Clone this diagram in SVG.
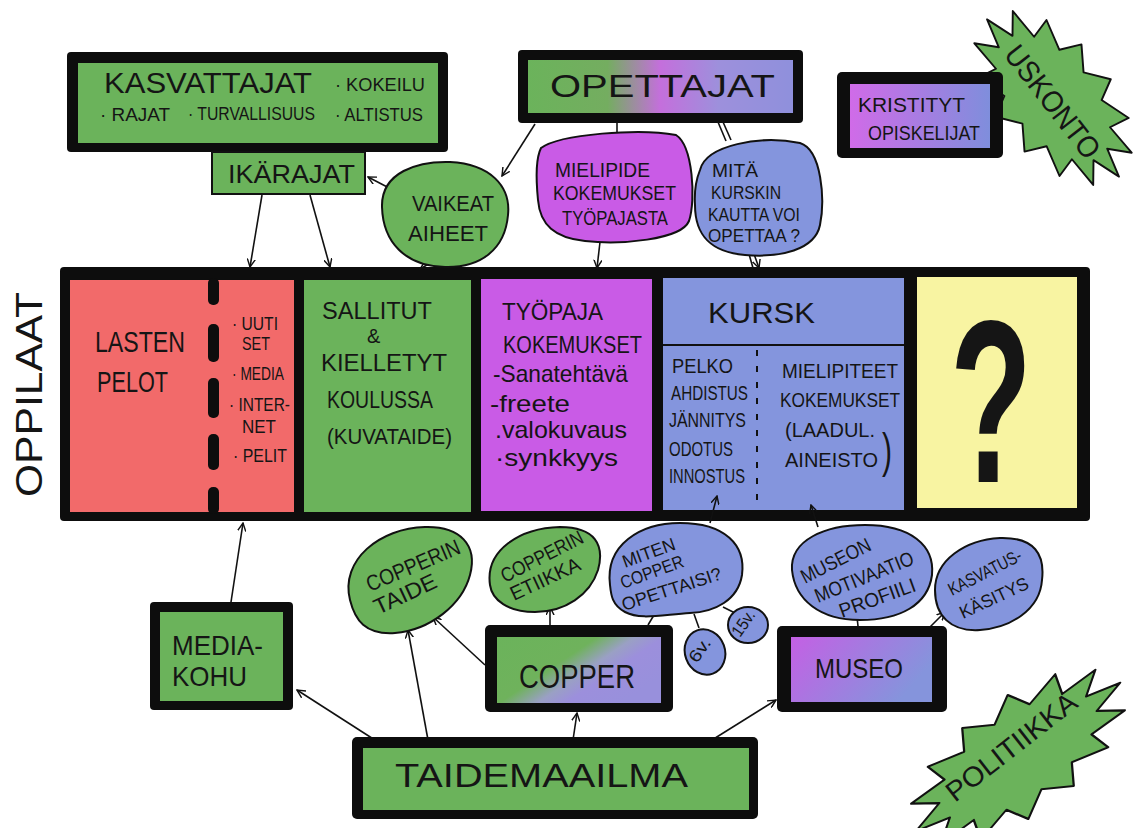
<svg xmlns="http://www.w3.org/2000/svg" width="1134" height="828" viewBox="0 0 1134 828">
<style>
.t{font-family:"Liberation Sans",Arial,sans-serif;fill:#151515}
.blk{fill:#0d0d0d}
.g{fill:#6bb35b}
.r{fill:#f26a6a}
.p{fill:#c95be6}
.b{fill:#8495dd}
.y{fill:#f8f4a2}
.bub{stroke:#111;stroke-width:2}
.ln{fill:none;stroke:#111;stroke-width:1.6}
.arr{fill:none;stroke:#111;stroke-width:1.6;marker-end:url(#ah)}
.star{fill:#6bb35b;stroke:#111;stroke-width:1.8;stroke-linejoin:round}
</style>
<defs>
<marker id="ah" viewBox="0 0 10 10" refX="9" refY="5" markerWidth="9" markerHeight="9" orient="auto" markerUnits="userSpaceOnUse">
<path d="M0,0.5 L9,5 L0,9.5" fill="none" stroke="#111" stroke-width="1.6"/>
</marker>
<linearGradient id="gOpe" x1="0" y1="0" x2="1" y2="0">
<stop offset="0" stop-color="#6bb35b"/><stop offset="0.3" stop-color="#74ad60"/><stop offset="0.5" stop-color="#c46fdc"/><stop offset="0.72" stop-color="#9d90dc"/><stop offset="1" stop-color="#8f90dc"/>
</linearGradient>
<linearGradient id="gCop" x1="0" y1="0" x2="1" y2="0.6">
<stop offset="0" stop-color="#6bb35b"/><stop offset="0.45" stop-color="#6fb25c"/><stop offset="0.62" stop-color="#9aa0c4"/><stop offset="0.75" stop-color="#9c8fdc"/><stop offset="1" stop-color="#9890dc"/>
</linearGradient>
<linearGradient id="gMus" x1="0" y1="0" x2="1" y2="0.4">
<stop offset="0" stop-color="#c460e4"/><stop offset="1" stop-color="#8594dc"/>
</linearGradient>
<linearGradient id="gKri" x1="0" y1="0" x2="1" y2="0">
<stop offset="0" stop-color="#d06be8"/><stop offset="1" stop-color="#7f8edc"/>
</linearGradient>
<polygon id="star" points="95,0 68.2,8.5 85.6,23.9 54.7,23.7 59.2,43 30.4,34.2 21.1,53.6 0,38 -21.1,53.6 -30.4,34.2 -59.2,43 -54.7,23.7 -85.6,23.9 -68.2,8.5 -95,0 -68.2,-8.5 -85.6,-23.9 -54.7,-23.7 -59.2,-43 -30.4,-34.2 -21.1,-53.6 0,-38 21.1,-53.6 30.4,-34.2 59.2,-43 54.7,-23.7 85.6,-23.9 68.2,-8.5"/>
</defs>
<rect width="1134" height="828" fill="#ffffff"/>

<g id="uskonto">
<use href="#star" class="star" transform="translate(1053,98) rotate(50) scale(1.08,1.05)"/>
<text class="t" font-size="30" transform="translate(1003,55) rotate(52)" textLength="135" lengthAdjust="spacingAndGlyphs">USKONTO</text>
</g>
<g id="politiikka">
<use href="#star" class="star" transform="translate(1018,757) rotate(-36) scale(1.33,1.05)"/>
<text class="t" font-size="28" transform="translate(955,803) rotate(-38)" textLength="158" lengthAdjust="spacingAndGlyphs">POLITIIKKA</text>
</g>

<g id="kasvattajat">
<rect class="blk" x="67" y="52" width="381" height="100" rx="4"/>
<rect class="g" x="78" y="63" width="360" height="80"/>
<text class="t" font-size="30" x="104" y="93" textLength="208" lengthAdjust="spacingAndGlyphs">KASVATTAJAT</text>
<text class="t" font-size="18" x="335" y="91" textLength="90" lengthAdjust="spacingAndGlyphs">· KOKEILU</text>
<text class="t" font-size="18" x="100" y="121" textLength="70" lengthAdjust="spacingAndGlyphs">· RAJAT</text>
<text class="t" font-size="18" x="188" y="120" textLength="127" lengthAdjust="spacingAndGlyphs">· TURVALLISUUS</text>
<text class="t" font-size="18" x="335" y="121" textLength="88" lengthAdjust="spacingAndGlyphs">· ALTISTUS</text>
</g>
<g id="ikarajat">
<rect class="g" x="212" y="152" width="153" height="42" stroke="#111" stroke-width="2"/>
<text class="t" font-size="26" x="228" y="183" textLength="127" lengthAdjust="spacingAndGlyphs">IKÄRAJAT</text>
</g>
<g id="opettajat">
<rect class="blk" x="518" y="50" width="285" height="73" rx="4"/>
<rect x="528" y="60" width="265" height="53" fill="url(#gOpe)"/>
<text class="t" font-size="31" x="550" y="97" textLength="225" lengthAdjust="spacingAndGlyphs">OPETTAJAT</text>
</g>
<g id="kristityt">
<rect class="blk" x="837" y="72" width="166" height="86" rx="5"/>
<rect x="850" y="84" width="140" height="64" fill="url(#gKri)"/>
<text class="t" font-size="20" x="858" y="112" textLength="107" lengthAdjust="spacingAndGlyphs">KRISTITYT</text>
<text class="t" font-size="20" x="868" y="140" textLength="112" lengthAdjust="spacingAndGlyphs">OPISKELIJAT</text>
</g>

<g id="oppilaat">
<text class="t" font-size="36" transform="translate(42,497) rotate(-90)" textLength="205" lengthAdjust="spacingAndGlyphs">OPPILAAT</text>
</g>

<g id="band">
<rect class="blk" x="60" y="267" width="1030" height="254" rx="4"/>
<rect class="r" x="70" y="280" width="224" height="232"/>
<rect class="g" x="304" y="280" width="167" height="232"/>
<rect class="p" x="481" y="279" width="171" height="232"/>
<rect class="b" x="663" y="278" width="241" height="232"/>
<rect class="y" x="917" y="277" width="160" height="231"/>
</g>

<g id="lasten-pelot">
<rect class="blk" x="208" y="278" width="11" height="27" rx="5"/>
<rect class="blk" x="208" y="324" width="11" height="38" rx="5"/>
<rect class="blk" x="208" y="378" width="11" height="40" rx="5"/>
<rect class="blk" x="208" y="434" width="11" height="36" rx="5"/>
<rect class="blk" x="208" y="487" width="11" height="27" rx="5"/>
<text class="t" font-size="30" x="95" y="352" textLength="90" lengthAdjust="spacingAndGlyphs">LASTEN</text>
<text class="t" font-size="30" x="97" y="392" textLength="71" lengthAdjust="spacingAndGlyphs">PELOT</text>
<text class="t" font-size="18" x="232" y="330" textLength="46" lengthAdjust="spacingAndGlyphs">· UUTI</text>
<text class="t" font-size="18" x="242" y="350" textLength="28" lengthAdjust="spacingAndGlyphs">SET</text>
<text class="t" font-size="18" x="232" y="380" textLength="52" lengthAdjust="spacingAndGlyphs">· MEDIA</text>
<text class="t" font-size="18" x="229" y="411" textLength="61" lengthAdjust="spacingAndGlyphs">· INTER-</text>
<text class="t" font-size="18" x="242" y="433" textLength="34" lengthAdjust="spacingAndGlyphs">NET</text>
<text class="t" font-size="18" x="233" y="462" textLength="54" lengthAdjust="spacingAndGlyphs">· PELIT</text>
</g>
<g id="sallitut">
<text class="t" font-size="24" x="322" y="319" textLength="110" lengthAdjust="spacingAndGlyphs">SALLITUT</text>
<text class="t" font-size="20" x="367" y="343">&amp;</text>
<text class="t" font-size="24" x="321" y="371" textLength="126" lengthAdjust="spacingAndGlyphs">KIELLETYT</text>
<text class="t" font-size="24" x="327" y="408" textLength="106" lengthAdjust="spacingAndGlyphs">KOULUSSA</text>
<text class="t" font-size="22" x="327" y="444" textLength="125" lengthAdjust="spacingAndGlyphs">(KUVATAIDE)</text>
</g>
<g id="tyopaja">
<text class="t" font-size="24" x="502" y="320" textLength="101" lengthAdjust="spacingAndGlyphs">TYÖPAJA</text>
<text class="t" font-size="24" x="503" y="353" textLength="139" lengthAdjust="spacingAndGlyphs">KOKEMUKSET</text>
<text class="t" font-size="24" x="493" y="382" textLength="135" lengthAdjust="spacingAndGlyphs">-Sanatehtävä</text>
<text class="t" font-size="24" x="490" y="412" textLength="80" lengthAdjust="spacingAndGlyphs">-freete</text>
<text class="t" font-size="24" x="495" y="438" textLength="132" lengthAdjust="spacingAndGlyphs">.valokuvaus</text>
<text class="t" font-size="24" x="495" y="466" textLength="123" lengthAdjust="spacingAndGlyphs">·synkkyys</text>
</g>
<g id="kursk">
<text class="t" font-size="30" x="708" y="323" textLength="107" lengthAdjust="spacingAndGlyphs">KURSK</text>
<line x1="663" y1="345" x2="904" y2="345" stroke="#111" stroke-width="2"/>
<line x1="757" y1="350" x2="757" y2="508" stroke="#111" stroke-width="2" stroke-dasharray="6 10"/>
<text class="t" font-size="20" x="672" y="373" textLength="61" lengthAdjust="spacingAndGlyphs">PELKO</text>
<text class="t" font-size="20" x="671" y="400" textLength="77" lengthAdjust="spacingAndGlyphs">AHDISTUS</text>
<text class="t" font-size="20" x="669" y="427" textLength="77" lengthAdjust="spacingAndGlyphs">JÄNNITYS</text>
<text class="t" font-size="20" x="669" y="456" textLength="64" lengthAdjust="spacingAndGlyphs">ODOTUS</text>
<text class="t" font-size="20" x="669" y="483" textLength="76" lengthAdjust="spacingAndGlyphs">INNOSTUS</text>
<text class="t" font-size="20" x="782" y="378" textLength="116" lengthAdjust="spacingAndGlyphs">MIELIPITEET</text>
<text class="t" font-size="20" x="780" y="407" textLength="120" lengthAdjust="spacingAndGlyphs">KOKEMUKSET</text>
<text class="t" font-size="20" x="785" y="437" textLength="90" lengthAdjust="spacingAndGlyphs">(LAADUL.</text>
<text class="t" font-size="20" x="785" y="467" textLength="93" lengthAdjust="spacingAndGlyphs">AINEISTO</text>
<text class="t" font-size="48" x="882" y="467" textLength="10" lengthAdjust="spacingAndGlyphs">)</text>
</g>
<g id="kysymys">
<text class="t" font-size="232" font-weight="bold" x="950" y="482" textLength="82" lengthAdjust="spacingAndGlyphs" fill="#000">?</text>
</g>

<g id="connectors">
<line class="arr" x1="262" y1="195" x2="250" y2="267"/>
<line class="arr" x1="310" y1="195" x2="330" y2="267"/>
<line class="arr" x1="393" y1="190" x2="368" y2="177"/>
<line class="arr" x1="535" y1="124" x2="502" y2="176"/>
<line class="arr" x1="432" y1="262" x2="420" y2="269"/>
<line class="ln" x1="617" y1="122" x2="617" y2="133"/>
<line class="arr" x1="600" y1="242" x2="597" y2="268"/>
<line class="ln" x1="718" y1="122" x2="726" y2="141"/>
<line class="ln" x1="723" y1="122" x2="731" y2="140"/>
<line class="ln" x1="749" y1="254" x2="753" y2="268"/>
<line class="arr" x1="754" y1="254" x2="759" y2="268"/>
<line class="arr" x1="710" y1="523" x2="717" y2="496"/>
<line class="arr" x1="818" y1="527" x2="811" y2="505"/>
<line class="arr" x1="231" y1="602" x2="243" y2="523"/>
<line class="arr" x1="485" y1="665" x2="433" y2="617"/>
<line class="arr" x1="428" y1="740" x2="408" y2="630"/>
<line class="arr" x1="550" y1="625" x2="550" y2="607"/>
<line class="ln" x1="648" y1="625" x2="654" y2="615"/>
<line class="ln" x1="694" y1="614" x2="699" y2="628"/>
<line class="ln" x1="723" y1="607" x2="735" y2="613"/>
<line class="arr" x1="378" y1="742" x2="297" y2="690"/>
<line class="arr" x1="573" y1="740" x2="577" y2="713"/>
<line class="arr" x1="712" y1="740" x2="776" y2="700"/>
<line class="ln" x1="858" y1="626" x2="857" y2="617"/>
<line class="arr" x1="930" y1="627" x2="945" y2="612"/>
</g>

<g id="vaikeat">
<path class="g bub" d="M382,207 C381,172 418,161 450,162 C490,164 511,186 508,215 C505,250 480,268 445,267 C405,266 383,242 382,207 Z"/>
<text class="t" font-size="22" x="412" y="211" textLength="82" lengthAdjust="spacingAndGlyphs">VAIKEAT</text>
<text class="t" font-size="22" x="408" y="241" textLength="80" lengthAdjust="spacingAndGlyphs">AIHEET</text>
</g>
<g id="mielipide">
<path class="p bub" d="M541,148 C560,134 640,128 676,135 C693,146 696,200 689,221 C681,240 620,245 585,241 C555,238 540,225 538,200 C536,180 535,160 541,148 Z"/>
<text class="t" font-size="20" x="555" y="177" textLength="95" lengthAdjust="spacingAndGlyphs">MIELIPIDE</text>
<text class="t" font-size="20" x="553" y="200" textLength="123" lengthAdjust="spacingAndGlyphs">KOKEMUKSET</text>
<text class="t" font-size="20" x="562" y="225" textLength="106" lengthAdjust="spacingAndGlyphs">TYÖPAJASTA</text>
</g>
<g id="mita">
<path class="b bub" d="M700,170 C706,145 760,135 800,143 C822,150 825,200 820,225 C815,250 780,258 745,255 C710,252 695,235 695,205 C694,190 696,180 700,170 Z"/>
<text class="t" font-size="18" x="712" y="177" textLength="46" lengthAdjust="spacingAndGlyphs">MITÄ</text>
<text class="t" font-size="18" x="711" y="199" textLength="70" lengthAdjust="spacingAndGlyphs">KURSKIN</text>
<text class="t" font-size="18" x="708" y="221" textLength="92" lengthAdjust="spacingAndGlyphs">KAUTTA VOI</text>
<text class="t" font-size="18" x="708" y="242" textLength="92" lengthAdjust="spacingAndGlyphs">OPETTAA ?</text>
</g>

<g id="mediakohu">
<rect class="blk" x="150" y="602" width="143" height="108" rx="4"/>
<rect class="g" x="160" y="612" width="123" height="89"/>
<text class="t" font-size="28" x="172" y="655" textLength="91" lengthAdjust="spacingAndGlyphs">MEDIA-</text>
<text class="t" font-size="28" x="172" y="686" textLength="75" lengthAdjust="spacingAndGlyphs">KOHU</text>
</g>
<g id="copperin-taide">
<path class="g bub" d="M350,600 C340,560 380,528 425,527 C460,526 478,545 470,575 C462,605 430,630 395,633 C365,635 355,620 350,600 Z"/>
<text class="t" font-size="22" transform="translate(370,592) rotate(-23)" textLength="100" lengthAdjust="spacingAndGlyphs">COPPERIN</text>
<text class="t" font-size="22" transform="translate(378,615) rotate(-25)" textLength="67" lengthAdjust="spacingAndGlyphs">TAIDE</text>
</g>
<g id="copperin-etiikka">
<path class="g bub" d="M490,585 C485,550 520,528 560,527 C595,527 605,545 598,570 C590,595 565,612 535,612 C508,612 492,600 490,585 Z"/>
<text class="t" font-size="20" transform="translate(505,583) rotate(-27)" textLength="90" lengthAdjust="spacingAndGlyphs">COPPERIN</text>
<text class="t" font-size="20" transform="translate(514,601) rotate(-25)" textLength="75" lengthAdjust="spacingAndGlyphs">ETIIKKA</text>
</g>
<g id="miten-copper">
<path class="b bub" d="M610,585 C605,545 640,523 680,523 C725,523 746,545 742,575 C738,600 715,612 690,613 C660,615 640,620 625,612 C612,605 611,595 610,585 Z"/>
<text class="t" font-size="18" transform="translate(625,568) rotate(-20)" textLength="55" lengthAdjust="spacingAndGlyphs">MITEN</text>
<text class="t" font-size="18" transform="translate(623,589) rotate(-20)" textLength="66" lengthAdjust="spacingAndGlyphs">COPPER</text>
<text class="t" font-size="18" transform="translate(624,611) rotate(-18)" textLength="104" lengthAdjust="spacingAndGlyphs">OPETTAISI?</text>
</g>
<g id="ika6">
<ellipse class="b bub" cx="705" cy="652" rx="20" ry="23" transform="rotate(-20 705 652)"/>
<text class="t" font-size="17" transform="translate(697,664) rotate(-55)" textLength="26" lengthAdjust="spacingAndGlyphs">6v.</text>
</g>
<g id="ika15">
<ellipse class="b bub" cx="748" cy="625" rx="20" ry="18"/>
<text class="t" font-size="17" transform="translate(740,638) rotate(-55)" textLength="28" lengthAdjust="spacingAndGlyphs">15v.</text>
</g>
<g id="copper">
<rect class="blk" x="485" y="625" width="188" height="87" rx="5"/>
<rect x="497" y="637" width="164" height="66" fill="url(#gCop)"/>
<text class="t" font-size="34" x="519" y="688" textLength="116" lengthAdjust="spacingAndGlyphs">COPPER</text>
</g>
<g id="museon-profiili">
<path class="b bub" d="M792,570 C790,540 825,525 865,525 C910,525 935,545 932,575 C928,605 900,620 860,620 C820,620 795,600 792,570 Z"/>
<text class="t" font-size="20" transform="translate(805,584) rotate(-27)" textLength="76" lengthAdjust="spacingAndGlyphs">MUSEON</text>
<text class="t" font-size="20" transform="translate(818,603) rotate(-22)" textLength="105" lengthAdjust="spacingAndGlyphs">MOTIVAATIO</text>
<text class="t" font-size="20" transform="translate(842,618) rotate(-20)" textLength="80" lengthAdjust="spacingAndGlyphs">PROFIILI</text>
</g>
<g id="kasvatuskasitys">
<path class="b bub" d="M935,590 C935,560 965,540 1000,538 C1035,537 1045,555 1042,580 C1040,610 1010,628 980,630 C950,632 935,615 935,590 Z"/>
<text class="t" font-size="18" transform="translate(952,596) rotate(-27)" textLength="80" lengthAdjust="spacingAndGlyphs">KASVATUS-</text>
<text class="t" font-size="18" transform="translate(963,619) rotate(-25)" textLength="74" lengthAdjust="spacingAndGlyphs">KÄSITYS</text>
</g>
<g id="museo">
<rect class="blk" x="777" y="626" width="170" height="86" rx="5"/>
<rect x="791" y="637" width="141" height="65" fill="url(#gMus)"/>
<text class="t" font-size="28" x="815" y="678" textLength="88" lengthAdjust="spacingAndGlyphs">MUSEO</text>
</g>
<g id="taidemaailma">
<rect class="blk" x="352" y="737" width="406" height="82" rx="5"/>
<rect class="g" x="363" y="748" width="386" height="62"/>
<text class="t" font-size="34" x="395" y="787" textLength="293" lengthAdjust="spacingAndGlyphs">TAIDEMAAILMA</text>
</g>
</svg>
